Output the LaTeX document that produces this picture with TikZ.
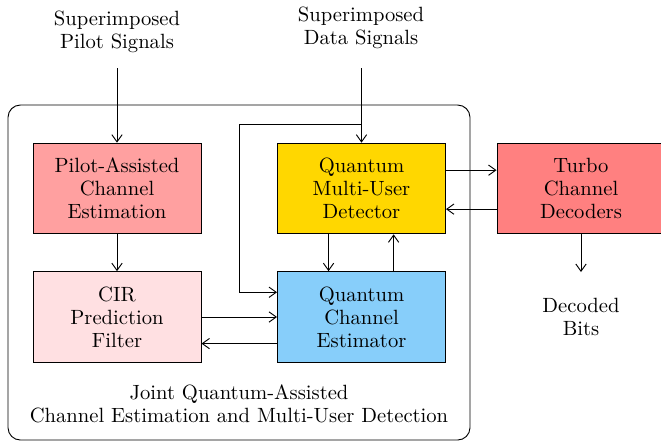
\documentclass[tikz,border=0pt]{standalone}
\usetikzlibrary{calc,arrows.meta}
\definecolor{paceC}{RGB}{255,160,160}
\definecolor{cirC}{RGB}{255,224,226}
\definecolor{qmudC}{RGB}{255,215,0}
\definecolor{qceC}{RGB}{135,206,250}
\definecolor{turboC}{RGB}{255,128,128}
\begin{document}
\begin{tikzpicture}[x=0.485pt,y=-0.485pt,
  every node/.style={font=\fontsize{10}{11.2}\selectfont, align=center},
  blockbox/.style={draw, line width=0.45pt, minimum width=81.5pt, minimum height=44pt, inner sep=0pt},
  conn/.style={-{Straight Barb[length=3.5pt,width=5pt]}, line width=0.45pt},
  outerbox/.style={draw, line width=0.45pt, rounded corners=6pt}]
\useasboundingbox (0,0) rectangle (661,441);
\draw[outerbox] (8,105) rectangle (470,440);
\node (pilot) at (117,32) {Superimposed\\Pilot Signals};
\node (data) at (361,28) {Superimposed\\Data Signals};
\coordinate (pilotin) at (117,68);
\coordinate (datain) at (361.5,68);
\coordinate (junc) at (361.5,124);
\coordinate (loopa) at (239,124);
\node[blockbox, fill=paceC] (pace) at (117,188.5) {Pilot-Assisted\\Channel\\Estimation};
\node[blockbox, fill=cirC] (cir) at (117,317) {CIR\\Prediction\\Filter};
\node[blockbox, fill=qmudC] (qmud) at (361.5,188.5) {Quantum\\Multi-User\\Detector};
\node[blockbox, fill=qceC] (qce) at (361.5,317) {Quantum\\Channel\\Estimator};
\node[blockbox, fill=turboC] (turbo) at (581,188.5) {Turbo\\Channel\\Decoders};
\node (bits) at (581,317) {Decoded\\Bits};
\coordinate (bitsin) at (581,272);
\node at (239,404) {Joint Quantum-Assisted\\Channel Estimation and Multi-User Detection};
% connectors
\draw[conn] (pilotin) -- (pace.north);
\draw[conn] (datain) -- (qmud.north);
\draw[conn] (pace.south) -- (cir.north);
\draw[conn] (junc) -- (loopa) |- ($(qce.north west)!0.23!(qce.south west)$);
\draw[conn] ($(qmud.south west)!0.305!(qmud.south east)$) -- ($(qce.north west)!0.305!(qce.north east)$);
\draw[conn] ($(qce.north west)!0.69!(qce.north east)$) -- ($(qmud.south west)!0.69!(qmud.south east)$);
\draw[conn] ($(qmud.north east)!0.3!(qmud.south east)$) -- ($(turbo.north west)!0.3!(turbo.south west)$);
\draw[conn] ($(turbo.north west)!0.725!(turbo.south west)$) -- ($(qmud.north east)!0.725!(qmud.south east)$);
\draw[conn] (cir.east) -- (cir.east -| qce.west);
\draw[conn] ($(qce.north west)!0.79!(qce.south west)$) -- ($(cir.north east)!0.79!(cir.south east)$);
\draw[conn] (turbo.south) -- (bitsin);
\end{tikzpicture}
\end{document}
